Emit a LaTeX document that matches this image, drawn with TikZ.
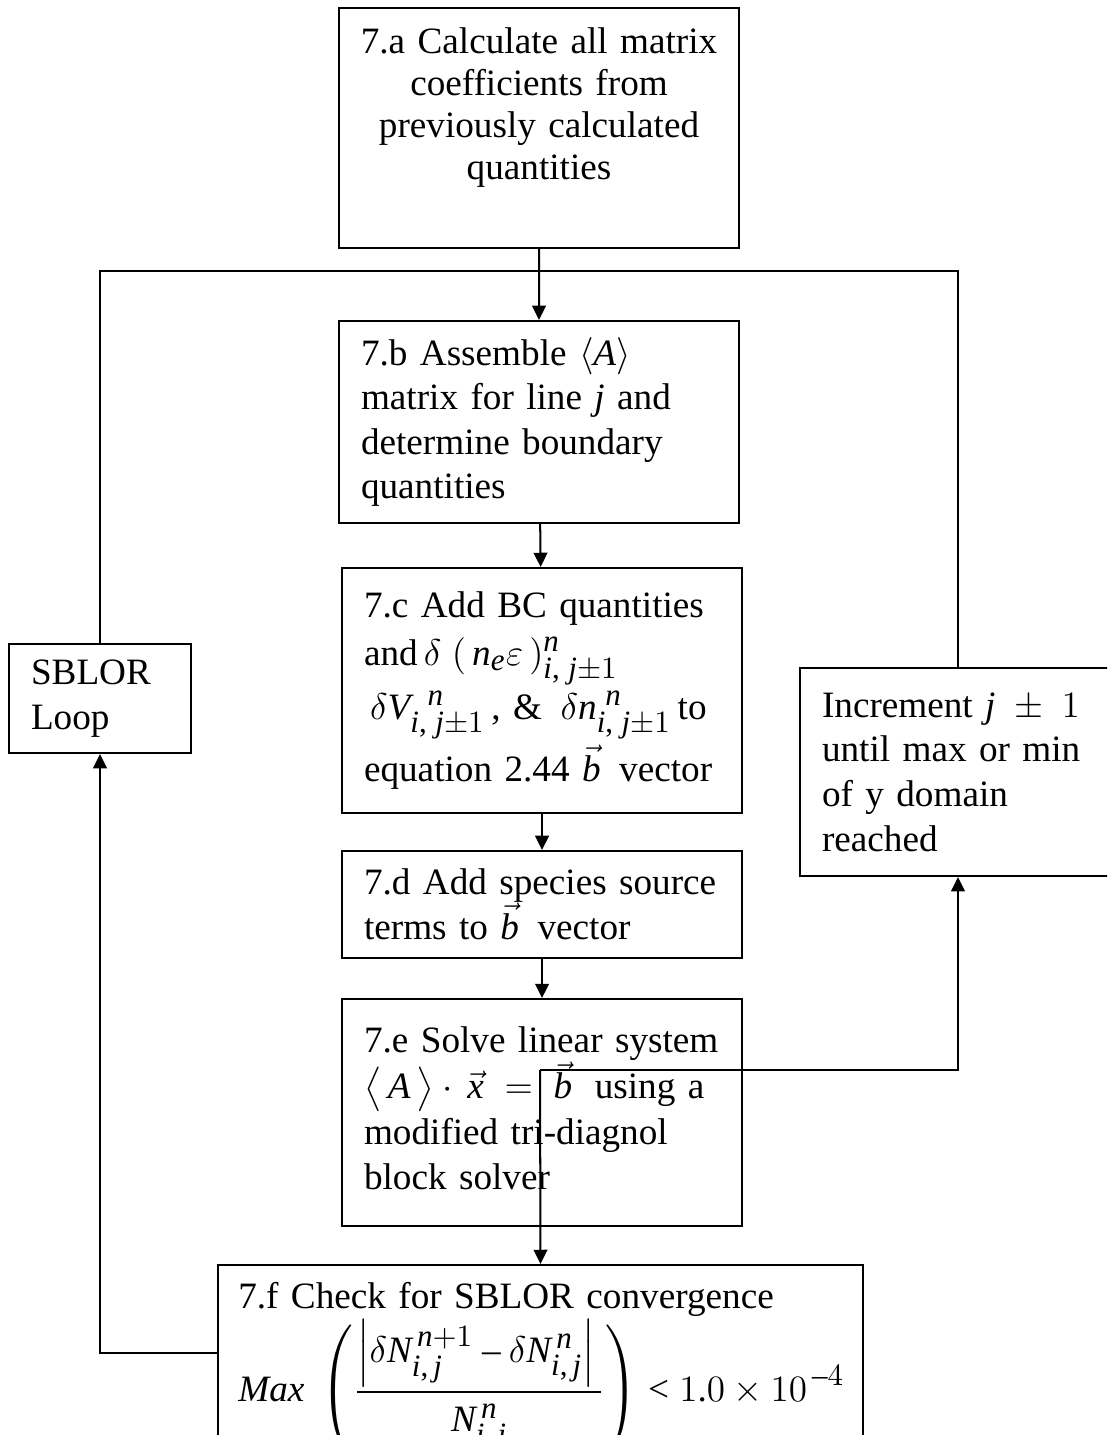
\documentclass[tikz,border=0pt]{standalone}
\usepackage{amsmath}
\usepackage{amssymb}
\usepackage{fontspec}
\setmainfont{Liberation Serif}
\usepackage[italic]{mathastext}
\usetikzlibrary{arrows.meta}

\begin{document}
\begin{tikzpicture}[x=0.3226pt,y=-0.3226pt,line width=0.65pt,
    >={Triangle[length=4.6pt,width=4.4pt]},
    box/.style={draw,anchor=north west,inner xsep=7.1pt,inner ysep=0pt,
        font=\fontsize{12}{14.4}\selectfont,align=left},
    stepbox/.style={box,minimum width=129.04pt,text width=114.85pt}]
    \useasboundingbox (0,0) rectangle (1107,1435);
    \clip (0,0) rectangle (1107,1435);
    \node[box,align=center,inner xsep=2pt,minimum width=129.04pt,minimum height=77.42pt,text width=125.04pt,
        font=\fontsize{12}{13.6}\selectfont] (a) at (338,7)
        {7.a Calculate all matrix\\ coefficients from\\ previously calculated\\ quantities\rule[-15.8pt]{0pt}{15.8pt}};
    \node[stepbox,minimum height=65.17pt] (b) at (338,320)
        {7.b Assemble $\langle A\rangle$\\ matrix for line $j$ and\\ determine boundary\\ quantities};
    \node[stepbox,minimum height=79.04pt] (c) at (341,567)
        {7.c Add BC quantities\\[1pt]
         and$\,\delta\;(\,n_{e}\varepsilon\,)^{n}_{i,\;j\pm1}$\\[1pt]
         $\,\delta V^{\;\;n}_{i,\;j\pm1}$\,, \& $\,\delta n^{\;n}_{i,\;j\pm1}$\,to\\[1pt]
         equation 2.44 $\vec{b}$\, vector};
    \node[stepbox,minimum height=34.52pt] (d) at (341,850)
        {7.d Add species source\\ terms to $\vec{b}$\, vector};
    \node[stepbox,minimum height=73.23pt] (e) at (341,998)
        {7.e Solve linear system\\[0.5pt]
         $\big\langle\, A\,\big\rangle\cdot\,\vec{x}\;=\;\vec{b}$\; using a\\[0.5pt]
         modified tri-diagnol\\ block solver\rule[-3pt]{0pt}{3pt}};
    \node[box,inner xsep=6.5pt,minimum width=208.08pt,minimum height=64.5pt,text width=195pt] (f) at (217,1264)
        {\rule{0pt}{12pt}7.f Check for SBLOR convergence\\
         \mbox{$\displaystyle Max\;\left(\frac{\left|\delta N^{\,n+1}_{i,\,j}-\delta N^{\,n}_{i,\,j}\right|\rule[-1.5pt]{0pt}{0pt}}{\rule{0pt}{11pt}N^{\,n}_{i,\,j}}\right)<1.0\times10^{\,-4}$}};
    \node[box,minimum width=101.94pt,minimum height=67.10pt,text width=87.75pt] (incr) at (799,667)
        {Increment $j\;\pm\;1$\\ until max or min\\ of y domain\\ reached};
    \node[box,minimum width=58.71pt,minimum height=35.16pt,text width=44.52pt] (sblor) at (8,643)
        {SBLOR\\ Loop};
    \coordinate (looptop) at (540,271);
    \coordinate (split) at (540,1070);
    \draw[->] (a) -- (b);
    \draw (sblor.north) |- (looptop) -| (incr.north);
    \draw[->] (b) -- (c);
    \draw[->] (c) -- (d);
    \draw[->] (d) -- (e);
    \draw[->] (split) -| (incr.south);
    \draw[->] (split) -- (f.north);
    \draw[->] ([yshift=3.87pt]f.west) -| (sblor.south);
\end{tikzpicture}
\end{document}
